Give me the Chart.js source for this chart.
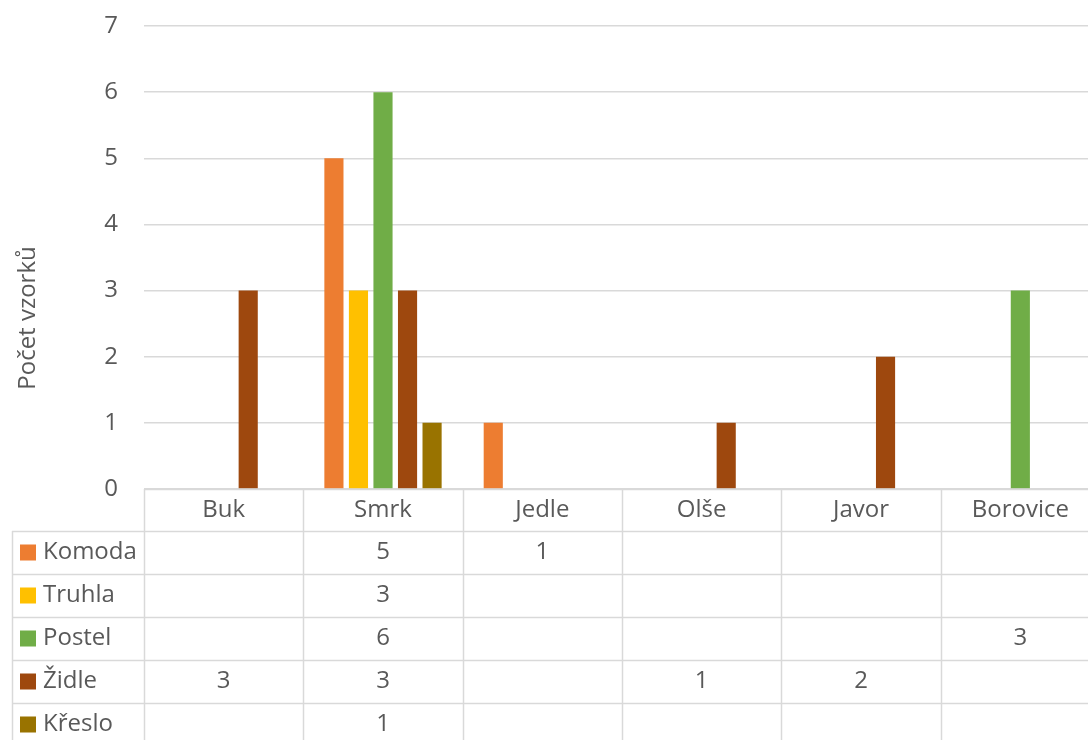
<!DOCTYPE html>
<html>
<head>
<meta charset="utf-8">
<script src="https://cdn.jsdelivr.net/npm/chart.js@4.4.1/dist/chart.umd.min.js"></script>
<style>
  html, body { margin: 0; padding: 0; background: #fff; overflow: hidden; }
  #wrap { width: 1088px; height: 740px; overflow: hidden; position: relative; }
  canvas { display: block; }
</style>
</head>
<body>
<div id="wrap"><canvas id="chart" width="1100" height="740"></canvas></div>
<script>
// kategorie (dřeviny) a řady (typ nábytku)
const categories = ['Buk', 'Smrk', 'Jedle', 'Olše', 'Javor', 'Borovice'];
const seriesNames = ['Komoda', 'Truhla', 'Postel', 'Židle', 'Křeslo'];
const seriesColors = ['#ED7D31', '#FFC000', '#70AD47', '#9E480E', '#997300'];

const komoda = [null, 5, 1, null, null, null];
const truhla = [null, 3, null, null, null, null];
const postel = [null, 6, null, null, null, 3];
const zidle  = [3, 3, null, 1, 2, null];
const kreslo = [null, 1, null, null, null, null];

const yTicks = [0, 1, 2, 3, 4, 5, 6, 7];
const yTitle = 'Počet vzorků';

const seriesData = [komoda, truhla, postel, zidle, kreslo];

const FONT = '"Open Sans", sans-serif';
const FONT_SIZE = 24;
const TEXT = '#595959';
const GRID = '#d9d9d9';

// tabulka dat pod grafem (jako v Excelu)
const dataTablePlugin = {
  id: 'dataTable',
  afterDraw(chart) {
    const ctx = chart.ctx;
    const x = chart.scales.x;
    const area = chart.chartArea;
    const colW = (area.right - area.left) / categories.length;
    const top = area.bottom;
    const headH = 42;
    const rowH = 43;
    const legendLeft = 12;
    const bottom = chart.height;

    ctx.save();
    ctx.strokeStyle = GRID;
    ctx.lineWidth = 1.5;

    // svislé čáry sloupců
    for (let i = 0; i <= categories.length; i++) {
      const px = Math.round(area.left + i * colW) + 0.5;
      ctx.beginPath();
      ctx.moveTo(px, top);
      ctx.lineTo(px, bottom);
      ctx.stroke();
    }
    // levý okraj legendy
    ctx.beginPath();
    ctx.moveTo(legendLeft + 0.5, top + headH);
    ctx.lineTo(legendLeft + 0.5, bottom);
    ctx.stroke();

    // vodorovné čáry
    ctx.beginPath();
    ctx.moveTo(area.left, top + 0.5);
    ctx.lineTo(area.right, top + 0.5);
    ctx.stroke();
    for (let r = 0; r < seriesNames.length; r++) {
      const py = Math.round(top + headH + r * rowH) + 0.5;
      ctx.beginPath();
      ctx.moveTo(legendLeft, py);
      ctx.lineTo(area.right, py);
      ctx.stroke();
    }

    ctx.font = FONT_SIZE + 'px ' + FONT;
    ctx.fillStyle = TEXT;
    ctx.textBaseline = 'middle';

    // hlavička – názvy kategorií
    ctx.textAlign = 'center';
    categories.forEach((c, i) => {
      ctx.fillText(c, x.getPixelForValue(i), top + headH / 2);
    });

    // řádky s legendou a hodnotami
    seriesNames.forEach((name, r) => {
      const cy = top + headH + r * rowH + rowH / 2;
      ctx.fillStyle = seriesColors[r];
      ctx.fillRect(20, cy - 8, 16, 16);
      ctx.fillStyle = TEXT;
      ctx.textAlign = 'left';
      ctx.fillText(name, 43, cy);
      ctx.textAlign = 'center';
      seriesData[r].forEach((v, i) => {
        if (v !== null) ctx.fillText(String(v), x.getPixelForValue(i), cy);
      });
    });

    // název osy Y
    ctx.translate(28, 318);
    ctx.rotate(-Math.PI / 2);
    ctx.textAlign = 'center';
    ctx.fillText(yTitle, 0, 0);
    ctx.restore();
  }
};

const ctx = document.getElementById('chart').getContext('2d');

new Chart(ctx, {
  type: 'bar',
  data: {
    labels: categories,
    datasets: seriesNames.map((name, i) => ({
      label: name,
      data: seriesData[i],
      backgroundColor: seriesColors[i],
      borderWidth: 0,
      barPercentage: 0.78,
      categoryPercentage: 0.77
    }))
  },
  options: {
    responsive: false,
    animation: false,
    layout: { padding: { top: 26, bottom: 251, left: 0, right: 0 } },
    plugins: {
      legend: { display: false },
      tooltip: { enabled: false }
    },
    scales: {
      x: { display: false },
      y: {
        min: yTicks[0],
        max: yTicks[yTicks.length - 1],
        ticks: {
          stepSize: 1,
          padding: 26,
          color: TEXT,
          font: { family: FONT, size: FONT_SIZE }
        },
        grid: { color: GRID, lineWidth: 1.5, drawTicks: false },
        border: { display: false },
        afterFit(scale) {
          scale.width = 144;
          scale.paddingTop = 0;
          scale.paddingBottom = 0;
        }
      }
    }
  },
  plugins: [dataTablePlugin]
});
</script>
</body>
</html>
